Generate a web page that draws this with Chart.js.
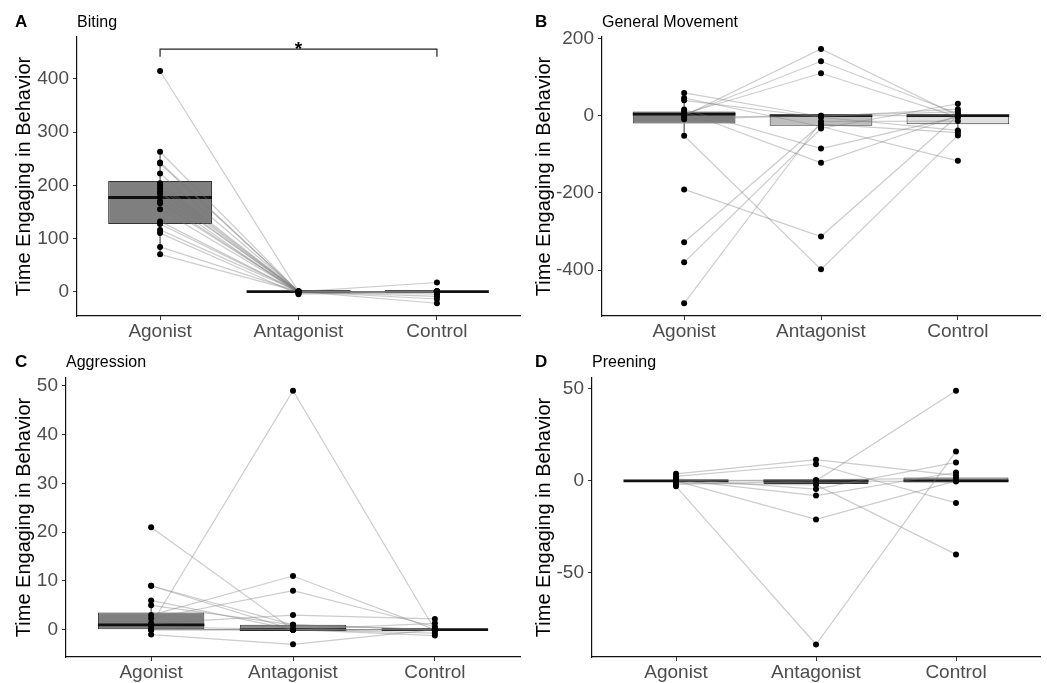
<!DOCTYPE html>
<html><head><meta charset="utf-8">
<script src="https://cdn.jsdelivr.net/npm/chart.js@4.4.1/dist/chart.umd.min.js"></script>
<style>
html,body{margin:0;padding:0;background:#fff;}
#wrap{position:relative;width:1047px;height:683px;overflow:hidden;}
canvas{position:absolute;left:0;top:0;}
</style></head><body><div id="wrap"></div>
<script>
// ---------- shared ----------
const groups = ['Agonist', 'Antagonist', 'Control'];
const groupX = [1, 2, 3];
const yAxisTitle = 'Time Engaging in Behavior';

// ---------- Panel A : Biting ----------
const agonistA    = [415, 263, 243, 241, 222, 204, 199, 194, 188, 185, 178, 170, 166, 155, 132, 127, 116, 110, 84, 70];
const antagonistA = [0, 0, 0, 0, 0, 0, 0, 0, 0, 0, -3, 0, 0, 0, 0, 0, 0, -5, 0, 0];
const controlA    = [0, 17, 0, 0, 0, -5, 0, 0, -9, 0, 0, 0, -14, 0, 0, 0, 0, 0, -22, 0];
const q1A  = [127, 0, 0];
const medA = [177, 0, 0];
const q3A  = [208, 0, 0];
const loA  = [70, 0, 0];
const hiA  = [263, 0, 0];
const yTicksA = [0, 100, 200, 300, 400];
const bracketA = {from: 1, to: 3, y: 456, drop: 442, label: '*'};

// ---------- Panel B : General Movement ----------
const agonistB    = [0, 2, 5, 59, 46, 40, 16, 11, -52, -191, -328, -380, -486, -9, -4];
const antagonistB = [173, 141, 110, -2, -28, -4, -85, -122, -398, -313, -22, -33, -15, 0, 0];
const controlB    = [0, 5, -3, 17, -117, -38, -3, 0, -51, 0, -44, 31, -14, 10, 0];
const q1B  = [-20, -26, -22];
const medB = [4, 0, 0];
const q3B  = [11, 0, 0];
const loB  = [-52, -33, -51];
const hiB  = [59, 0, 31];
const yTicksB = [-400, -200, 0, 200];

// ---------- Panel C : Aggression ----------
const agonistC    = [1, 21, 9, 9, 3, 2.3, 1.3, 6, 5, -1, 0, 0, 0.6, 0];
const antagonistC = [49, 0, 1, 0, 11, 8, 3, 0, 1, -3, 0, 0, 0, 0];
const controlC    = [0, 0, 0, 1.3, 0, 0.6, 2.2, 0, 0, 0, -1.2, -0.7, 0, 0];
const q1C  = [0, -0.25, 0];
const medC = [1, 0, 0];
const q3C  = [3.5, 1, 0];
const loC  = [-1, -0.25, 0];
const hiC  = [6, 1, 0];
const yTicksC = [0, 10, 20, 30, 40, 50];

// ---------- Panel D : Preening ----------
const agonistD    = [-3, 0, 3.8, 2.4, 0, -1.3, 1, 0.5, 0, -2];
const antagonistD = [-89, 0, 11.5, 9, -21, -2.2, -4.5, -8, 0.5, 0];
const controlD    = [16, 49, 3, -12, 0, -40, 10, 4.5, 1.5, -0.4];
const q1D  = [0, -1.8, -0.4];
const medD = [0, 0, 0];
const q3D  = [0, 0.5, 1.8];
const loD  = [0, -4.5, -0.4];
const hiD  = [0, 0.5, 4.5];
const yTicksD = [-50, 0, 50];

// ---------- drawing ----------
const FONT = '"Liberation Sans", Arial, Helvetica, sans-serif';
Chart.defaults.font.family = FONT;
const W = 1047, H = 683;

const boxPlugin = {
  id: 'boxStats',
  afterDatasetDraw(chart, args) {
    const ds = chart.data.datasets[args.index];
    if (!ds.boxStats) return;
    const st = ds.boxStats, ys = chart.scales.y, ctx = chart.ctx;
    ctx.save();
    args.meta.data.forEach((el, i) => {
      const p = el.getProps(['x', 'width'], true);
      const h = p.width / 2;
      ctx.strokeStyle = '#333'; ctx.lineWidth = 1;
      ctx.beginPath();
      ctx.moveTo(p.x, ys.getPixelForValue(st.lo[i])); ctx.lineTo(p.x, ys.getPixelForValue(st.q1[i]));
      ctx.moveTo(p.x, ys.getPixelForValue(st.q3[i])); ctx.lineTo(p.x, ys.getPixelForValue(st.hi[i]));
      ctx.stroke();
      ctx.strokeStyle = '#111'; ctx.lineWidth = 2.8;
      const ym = ys.getPixelForValue(st.med[i]);
      ctx.beginPath(); ctx.moveTo(p.x - h, ym); ctx.lineTo(p.x + h, ym); ctx.stroke();
    });
    ctx.restore();
  }
};

const textPlugin = {
  id: 'panelText',
  afterDraw(chart, args, o) {
    const ctx = chart.ctx;
    ctx.save();
    ctx.fillStyle = '#000'; ctx.textBaseline = 'alphabetic'; ctx.textAlign = 'left';
    ctx.font = 'bold 17px ' + FONT;
    ctx.fillText(o.letter, o.letterX, o.baseY);
    ctx.font = '16px ' + FONT;
    ctx.fillText(o.title, chart.chartArea.left, o.baseY);
    if (o.bracket) {
      ctx.textAlign = 'center';
      ctx.font = 'bold 19px ' + FONT;
      ctx.fillText(o.bracket.label, chart.scales.x.getPixelForValue((o.bracket.from + o.bracket.to) / 2),
                   chart.scales.y.getPixelForValue(o.bracket.y) + 6);
    }
    ctx.restore();
  }
};

function makePanel(p) {
  const cv = document.createElement('canvas');
  cv.width = W; cv.height = H;
  document.getElementById('wrap').appendChild(cv);
  const series = [p.ag, p.an, p.ct];
  const datasets = [];
  // box bodies
  datasets.push({
    type: 'bar', order: 3,
    data: groupX.map((x, i) => ({x: x, y: [p.q1[i], p.q3[i]]})),
    backgroundColor: p.fills, borderColor: '#333', borderWidth: 1, borderSkipped: false,
    categoryPercentage: 1, barPercentage: 0.75,
    boxStats: {q1: p.q1, med: p.med, q3: p.q3, lo: p.lo, hi: p.hi}
  });
  // paired subject lines
  p.ag.forEach((v, i) => {
    datasets.push({
      type: 'line', order: 2,
      data: series.map((s, g) => ({x: groupX[g], y: s[i]})),
      borderColor: 'rgba(120,120,120,0.38)', borderWidth: 1.2, pointRadius: 0, tension: 0, fill: false
    });
  });
  // bracket
  if (p.bracket) {
    const b = p.bracket;
    datasets.push({
      type: 'line', order: 1,
      data: [{x: b.from, y: b.drop}, {x: b.from, y: b.y}, {x: b.to, y: b.y}, {x: b.to, y: b.drop}],
      borderColor: '#222', borderWidth: 1.2, pointRadius: 0, tension: 0, fill: false
    });
  }
  // points
  datasets.push({
    type: 'line', order: 0, showLine: false,
    data: series.flatMap((s, g) => s.map(v => ({x: groupX[g], y: v}))),
    pointRadius: 3, pointHoverRadius: 3, pointBorderWidth: 0,
    pointBackgroundColor: '#000', borderColor: '#000'
  });

  new Chart(cv, {
    type: 'line',
    data: {datasets},
    plugins: [boxPlugin, textPlugin],
    options: {
      responsive: false, animation: false, devicePixelRatio: 1,
      layout: {padding: {left: p.ox, top: p.T, right: W - p.R, bottom: H - p.B - 30}},
      plugins: {
        legend: {display: false}, tooltip: {enabled: false},
        panelText: {letter: p.letter, letterX: p.ox + 15, baseY: p.baseY, title: p.title, bracket: p.bracket}
      },
      scales: {
        x: {
          type: 'linear', min: 0.4, max: 3.6, offset: false,
          afterBuildTicks: ax => { ax.ticks = groupX.map(v => ({value: v})); },
          afterFit: ax => { ax.height = 30; },
          ticks: {color: '#4d4d4d', font: {size: 19}, padding: 0, autoSkip: false, maxRotation: 0,
                  callback: v => groups[groupX.indexOf(v)]},
          grid: {display: true, offset: false, drawOnChartArea: false, drawTicks: true, tickLength: 4, color: '#333', lineWidth: 1},
          border: {display: true, color: '#111', width: 1.2}
        },
        y: {
          type: 'linear', min: p.ymin, max: p.ymax,
          afterBuildTicks: ax => { ax.ticks = p.yTicks.map(v => ({value: v})); },
          afterFit: ax => { ax.width = p.L - p.ox; },
          ticks: {color: '#4d4d4d', font: {size: 19}, padding: 4, callback: v => String(v)},
          grid: {display: true, drawOnChartArea: false, drawTicks: true, tickLength: 4, color: '#333', lineWidth: 1},
          border: {display: true, color: '#111', width: 1.2},
          title: {display: true, text: yAxisTitle, color: '#000', font: {size: 20}, padding: {top: 12.5, bottom: 0}}
        }
      }
    }
  });
}

makePanel({letter: 'A', title: 'Biting', ag: agonistA, an: antagonistA, ct: controlA,
  q1: q1A, med: medA, q3: q3A, lo: loA, hi: hiA, yTicks: yTicksA, bracket: bracketA,
  fills: ['#7f7f7f', '#bdbdbd', '#e0e0e0'],
  ox: 0, L: 77, R: 520, T: 37, B: 316, baseY: 27, ymin: -46, ymax: 479});
makePanel({letter: 'B', title: 'General Movement', ag: agonistB, an: antagonistB, ct: controlB,
  q1: q1B, med: medB, q3: q3B, lo: loB, hi: hiB, yTicks: yTicksB,
  fills: ['#7f7f7f', '#bdbdbd', '#e0e0e0'],
  ox: 520, L: 602, R: 1040, T: 37, B: 316, baseY: 27, ymin: -519, ymax: 204});
makePanel({letter: 'C', title: 'Aggression', ag: agonistC, an: antagonistC, ct: controlC,
  q1: q1C, med: medC, q3: q3C, lo: loC, hi: hiC, yTicks: yTicksC,
  fills: ['#7f7f7f', '#8c8c8c', '#e0e0e0'],
  ox: 0, L: 66, R: 520, T: 378, B: 657, baseY: 367, ymin: -5.6, ymax: 51.6});
makePanel({letter: 'D', title: 'Preening', ag: agonistD, an: antagonistD, ct: controlD,
  q1: q1D, med: medD, q3: q3D, lo: loD, hi: hiD, yTicks: yTicksD,
  fills: ['#7f7f7f', '#707070', '#a0a0a0'],
  ox: 520, L: 592, R: 1040, T: 378, B: 657, baseY: 367, ymin: -95.8, ymax: 55.9});
</script></body></html>
